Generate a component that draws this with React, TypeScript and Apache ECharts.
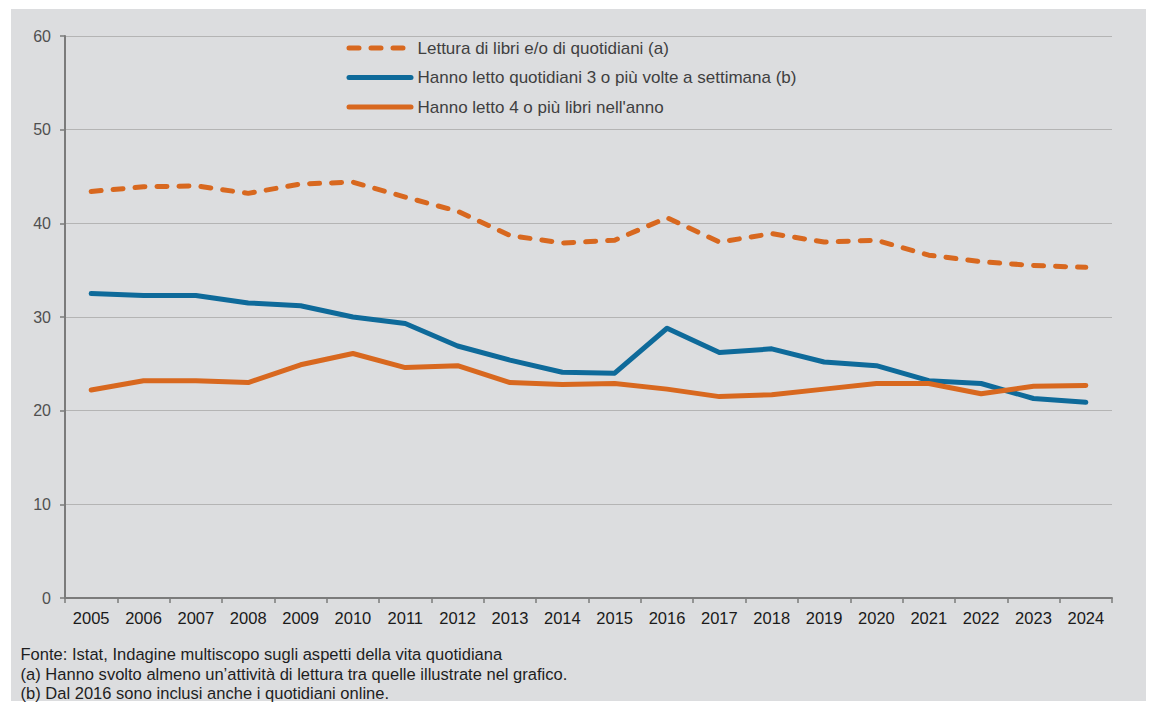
import React, { useEffect, useRef } from "react";
import * as echarts from "echarts";

const years = ["2005","2006","2007","2008","2009","2010","2011","2012","2013","2014","2015","2016","2017","2018","2019","2020","2021","2022","2023","2024"];
const seriesNames = [
  "Lettura di libri e/o di quotidiani (a)",
  "Hanno letto quotidiani 3 o più volte a settimana (b)",
  "Hanno letto 4 o più libri nell'anno",
];
const letturaLibriQuotidiani = [43.4,43.9,44.0,43.2,44.2,44.4,42.8,41.3,38.7,37.9,38.2,40.6,38.0,38.9,38.0,38.2,36.6,35.9,35.5,35.3];
const quotidiani3Volte = [32.5,32.3,32.3,31.5,31.2,30.0,29.3,26.9,25.4,24.1,24.0,28.8,26.2,26.6,25.2,24.8,23.2,22.9,21.3,20.9];
const libri4 = [22.2,23.2,23.2,23.0,24.9,26.1,24.6,24.8,23.0,22.8,22.9,22.3,21.5,21.7,22.3,22.9,22.9,21.8,22.6,22.7];
const yTicks = [0, 10, 20, 30, 40, 50, 60];
const footnotes = [
  "Fonte: Istat, Indagine multiscopo sugli aspetti della vita quotidiana",
  "(a) Hanno svolto almeno un\u2019attività di lettura tra quelle illustrate nel grafico.",
  "(b) Dal 2016 sono inclusi anche i quotidiani online.",
];

const ORANGE = "#d8681f";
const BLUE = "#0e6a9a";
const SANS = "'Liberation Sans', Arial, sans-serif";

function narrowScale(): number {
  try {
    const c = document.createElement("canvas");
    const ctx = c.getContext("2d");
    if (!ctx) return 0.82;
    ctx.font = "17px 'Liberation Sans', Arial, sans-serif";
    const w = ctx.measureText(footnotes[0]).width;
    return w > 0 ? 482 / w : 0.82;
  } catch (e) {
    return 0.82;
  }
}

export default function App() {
  const ref = useRef<HTMLDivElement>(null);
  useEffect(() => {
    if (!ref.current) return;
    const chart = echarts.init(ref.current, null, { renderer: "svg" });
    const sx = narrowScale();
    chart.setOption({
      animation: false,
      backgroundColor: "#ffffff",
      textStyle: { fontFamily: SANS },
      graphic: [
        { type: "rect", z: -100, silent: true, shape: { x: 11, y: 9, width: 1135, height: 692 }, style: { fill: "#dcdddf" } },
        ...footnotes.map((t, i) => ({
          type: "text",
          x: 20.5,
          y: 654.8 + i * 19.3,
          scaleX: sx,
          silent: true,
          style: { text: t, x: 0, y: 0, fontSize: 17, fill: "#1e1e1e", fontFamily: SANS, verticalAlign: "middle", align: "left" },
        })),
      ],
      legend: {
        orient: "vertical",
        left: 346.5,
        top: 39.5,
        padding: 0,
        itemWidth: 62,
        itemHeight: 17,
        itemGap: 12.5,
        itemStyle: { opacity: 0 },
        lineStyle: { width: 5, cap: "round" },
        textStyle: { fontSize: 17, lineHeight: 17, color: "#3f3f3f", fontFamily: SANS, padding: [0, 0, 0, 1.5] },
        data: seriesNames,
      },
      grid: { left: 65, right: 39, top: 36, bottom: 106, containLabel: false },
      xAxis: {
        type: "category",
        data: years,
        boundaryGap: true,
        axisLine: { lineStyle: { color: "#7b7b7b", width: 2 } },
        axisTick: { show: true, length: 5, lineStyle: { color: "#7b7b7b", width: 1.5 } },
        axisLabel: { fontSize: 16.5, color: "#1a1a1a", margin: 11, fontFamily: SANS },
      },
      yAxis: {
        type: "value",
        min: yTicks[0],
        max: yTicks[yTicks.length - 1],
        interval: 10,
        axisLine: { show: true, lineStyle: { color: "#7b7b7b", width: 2 } },
        axisTick: { show: true, length: 5, lineStyle: { color: "#7b7b7b", width: 1.5 } },
        axisLabel: { fontSize: 16, color: "#505050", margin: 14, fontFamily: SANS },
        splitLine: { lineStyle: { color: "#b4b4b4", width: 1 } },
      },
      series: [
        {
          name: seriesNames[0],
          type: "line",
          data: letturaLibriQuotidiani,
          symbol: "none",
          color: ORANGE,
          lineStyle: { color: ORANGE, width: 5, type: [10, 12], cap: "round", join: "round" },
        },
        {
          name: seriesNames[1],
          type: "line",
          data: quotidiani3Volte,
          symbol: "none",
          color: BLUE,
          lineStyle: { color: BLUE, width: 5, cap: "round", join: "round" },
        },
        {
          name: seriesNames[2],
          type: "line",
          data: libri4,
          symbol: "none",
          color: ORANGE,
          lineStyle: { color: ORANGE, width: 5, cap: "round", join: "round" },
        },
      ],
    });
    return () => chart.dispose();
  }, []);
  return (
    <div style={{ position: "absolute", left: 0, top: 0, width: 1151, height: 704 }}>
      <div ref={ref} style={{ width: 1151, height: 704 }} />
    </div>
  );
}
